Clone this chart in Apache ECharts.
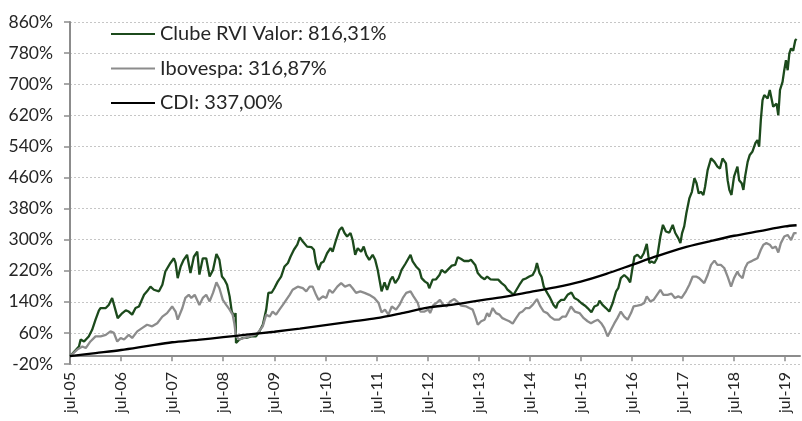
<!DOCTYPE html>
<html><head><meta charset="utf-8">
<script src="https://cdn.jsdelivr.net/npm/echarts@6/dist/echarts.min.js"></script>
<style>html,body{margin:0;padding:0;background:#fff}#c{width:802px;height:421px}</style>
</head><body><div id="c"></div>
<script>
// ---- data (x = months since jul-05, y = accumulated return %) ----
const seriesNames = ['Clube RVI Valor: 816,31%', 'Ibovespa: 316,87%', 'CDI: 337,00%'];
const xTickLabels = ['jul-05','jul-06','jul-07','jul-08','jul-09','jul-10','jul-11','jul-12','jul-13','jul-14','jul-15','jul-16','jul-17','jul-18','jul-19'];
const xTickMonths = [0,12,24,36,48,60,72,84,96,108,120,132,144,156,168];

const clubeMonths = [0,2.1,2.5,3.3,4.4,5.2,6.0,6.8,7.2,8.4,9.1,9.9,10.7,11.2,12.3,13.1,13.8,14.6,15.4,16.2,17.4,18.1,18.9,19.7,20.9,21.7,22.4,23.6,24.4,24.8,25.3,26.0,26.7,27.5,28.3,29.1,29.9,30.4,31.2,32.0,32.8,33.6,34.4,35.1,35.7,36.3,36.9,37.5,38.0,38.6,38.9,39.0,39.8,40.6,41.4,42.6,43.7,44.5,45.3,46.1,46.6,47.4,48.0,48.8,49.6,50.4,51.2,51.8,52.6,53.4,54.0,54.7,55.7,56.7,57.3,57.8,58.4,59.0,59.6,60.4,61.2,61.7,62.5,63.3,63.9,64.5,65.1,65.9,66.4,67.0,67.6,68.4,69.0,69.6,70.3,71.1,71.7,72.3,72.7,73.2,73.9,74.5,75.3,75.8,76.4,77.2,77.9,78.8,80.0,80.5,81.3,82.1,82.6,83.4,84.0,84.4,85.2,86.0,86.8,87.3,88.1,88.9,89.7,90.5,91.1,91.9,92.6,93.7,94.2,94.6,95.2,95.8,96.6,97.4,98.0,98.8,99.7,100.6,101.4,102.2,102.8,103.6,104.2,104.9,105.6,106.4,107.1,107.9,108.7,109.3,109.7,110.3,110.8,111.3,112.1,112.8,113.6,114.2,114.6,115.4,116.1,116.9,117.8,118.5,119.3,120.1,121.0,121.6,122.5,123.2,124.0,124.4,125.1,125.9,126.7,127.5,128.3,128.8,129.4,130.2,131.0,131.6,132.2,132.6,133.3,134.1,134.8,135.5,136.1,136.6,137.3,137.9,138.7,139.3,140.0,140.8,141.6,142.2,142.9,143.4,143.8,144.3,144.8,145.5,146.1,146.7,147.2,147.7,148.2,148.8,149.2,149.8,150.6,151.4,152.1,152.7,153.3,154.1,154.5,154.9,155.4,156.0,156.8,157.2,157.8,158.2,158.6,159.2,159.7,160.3,161.0,161.5,161.9,162.3,162.7,163.1,163.9,164.4,165.2,166.0,166.4,166.8,167.4,167.8,168.2,168.6,169.0,169.4,169.9,170.4,170.7];
const clubeValues = [0,25,43,38,51,68,94,118,124,124,132,150,118,98,111,118,115,107,124,128,158,167,179,171,167,184,218,240,252,240,201,231,248,261,214,256,269,210,252,252,205,222,263,248,205,197,184,154,115,102,111,34,43,47,47,51,51,64,81,120,163,164,175,192,205,231,240,256,274,287,306,295,282,281,274,240,222,240,244,265,278,269,299,325,332,317,308,317,299,261,278,269,282,261,248,261,248,222,197,167,190,171,197,205,188,201,222,238,261,244,231,222,201,192,188,175,197,198,209,222,215,224,233,235,255,250,245,245,248,252,235,214,204,198,205,198,197,197,188,181,171,164,158,171,184,197,200,205,209,222,240,214,204,179,163,150,132,124,137,145,145,158,164,150,145,137,130,124,113,128,132,143,132,124,115,137,167,175,201,209,201,190,231,256,261,252,265,289,240,244,240,252,308,338,321,318,338,317,304,291,317,334,368,406,423,458,445,419,423,415,436,479,509,500,488,483,509,496,453,428,415,462,488,453,445,428,462,500,518,526,548,556,539,608,659,672,663,685,642,650,620,685,706,736,762,736,779,792,786,813,816.31];

const iboveMonths = [0,1.7,2.9,3.7,4.8,6.0,7.2,8.4,9.5,10.3,11.1,11.9,12.7,13.8,14.6,15.8,17.0,18.1,19.3,20.5,21.7,22.8,24.0,24.8,25.3,26.4,27.1,27.9,28.5,29.3,30.4,31.2,32.0,32.8,33.6,34.4,35.1,35.9,36.7,37.5,38.2,38.6,39.0,39.8,41.0,42.2,43.4,44.1,45.3,46.1,46.9,47.6,48.4,49.2,50.0,50.8,51.6,52.3,53.5,54.7,55.5,56.3,57.0,57.8,58.4,59.4,60.2,60.9,61.7,62.8,63.7,64.6,65.7,66.4,67.2,68.2,69.2,70.3,71.5,72.5,73.2,74.0,74.8,75.6,76.6,77.4,78.2,79.0,80.0,80.7,81.7,82.3,83.3,84.2,84.6,85.4,86.1,86.9,87.7,88.5,89.3,90.3,91.1,91.9,93.1,93.8,94.6,95.2,95.8,96.6,97.4,98.0,98.5,99.3,100.1,100.9,101.6,102.4,103.2,104.0,104.8,105.6,106.3,107.1,107.9,108.7,109.7,110.5,111.3,112.1,112.8,113.8,114.9,115.7,116.5,117.7,118.6,119.7,120.7,121.6,122.4,123.2,124.0,124.8,125.5,126.3,127.1,127.9,128.6,129.4,130.2,131.0,131.8,132.4,133.3,134.1,134.9,135.5,136.3,137.1,137.9,138.7,139.4,140.4,141.3,142.1,142.9,143.7,144.7,145.5,146.3,147.1,147.8,149.0,149.8,150.6,151.4,152.1,152.9,153.7,154.5,155.3,156.0,156.8,157.2,158.0,158.6,159.2,160.0,160.7,161.5,162.3,162.9,163.6,164.4,165.0,165.8,166.4,167.0,167.8,168.6,169.4,170.1,170.7];
const iboveValues = [0,17,25,21,38,51,51,55,64,60,38,47,43,55,47,64,73,81,77,85,102,111,128,115,94,124,150,158,150,158,132,150,158,141,163,190,175,145,132,120,107,85,51,43,47,51,55,60,77,107,102,115,107,120,132,145,158,171,179,175,167,179,179,158,145,154,150,171,163,179,188,179,184,175,163,167,163,158,150,137,113,120,107,128,120,132,150,163,167,154,137,115,115,120,111,132,137,145,132,128,141,147,139,130,128,124,120,102,81,90,94,111,102,124,111,107,98,94,90,84,98,111,115,124,124,132,147,128,115,111,102,94,94,102,102,128,115,111,98,90,85,90,94,85,73,51,68,85,98,115,102,94,111,128,130,132,137,154,141,145,158,171,158,158,161,150,154,150,167,184,205,205,201,188,209,235,246,235,235,227,205,179,201,218,209,201,227,240,244,248,252,274,287,291,287,278,282,267,291,308,312,299,317,316.87];

const cdiMonths = [0,6,12,18,24,30,36,42,48,54,60,66,72,78,84,90,96,102,108,114,120,126,132,138,144,150,156,162,168,170.7];
const cdiValues = [0,8,16,26,36,42,49,56,63,71,80,89,98,111,125,133,143,153,165,177,192,212,235,258,279,295,310,322,334,337];

// ---- chart ----
const FONT = 'Lato';
const TXT = '#262626';
const zip = (xs, ys) => xs.map((x, i) => [x, ys[i]]);
const chart = echarts.init(document.getElementById('c'), null, {renderer: 'canvas'});
chart.setOption({
  animation: false,
  backgroundColor: '#ffffff',
  grid: {left: 70, right: 2, top: 22, bottom: 57, containLabel: false},
  legend: {
    orient: 'vertical', left: 111, top: 24, itemGap: 14.5, padding: 0,
    itemWidth: 44, itemHeight: 2, icon: 'rect',
    textStyle: {fontFamily: FONT, fontSize: 20, lineHeight: 20, color: TXT},
    data: seriesNames
  },
  xAxis: [
    {type: 'value', min: 0, max: 171.5, position: 'bottom',
     axisLine: {onZero: true, lineStyle: {color: '#8c8c8c', width: 2}},
     axisTick: {show: true, length: 5, customValues: xTickMonths, lineStyle: {color: '#8c8c8c', width: 1.5}},
     axisLabel: {show: false}, splitLine: {show: false}},
    {type: 'value', min: 0, max: 171.5, position: 'bottom',
     axisLine: {show: false, onZero: false}, axisTick: {show: false},
     axisLabel: {show: true, rotate: 90, margin: 8, customValues: xTickMonths,
       fontFamily: FONT, fontSize: 16, color: TXT,
       formatter: v => xTickLabels[Math.round(v / 12)] || ''},
     splitLine: {show: false}}
  ],
  yAxis: {
    type: 'value', min: -20, max: 860, interval: 80,
    axisLine: {show: true, lineStyle: {color: '#8c8c8c', width: 2}},
    axisTick: {show: true, length: 6, lineStyle: {color: '#8c8c8c', width: 1.5}},
    axisLabel: {margin: 17, fontFamily: FONT, fontSize: 17.5, color: TXT, formatter: '{value}%'},
    splitLine: {show: true, lineStyle: {type: [2, 2], color: '#c6c6c6', width: 1}}
  },
  series: [
    {name: seriesNames[0], type: 'line', xAxisIndex: 0, data: zip(clubeMonths, clubeValues),
     showSymbol: false, color: '#1c4a1c', lineStyle: {width: 2.3, color: '#1c4a1c'}},
    {name: seriesNames[1], type: 'line', xAxisIndex: 0, data: zip(iboveMonths, iboveValues),
     showSymbol: false, color: '#8c8c8c', lineStyle: {width: 2.3, color: '#8c8c8c'}},
    {name: seriesNames[2], type: 'line', xAxisIndex: 0, data: zip(cdiMonths, cdiValues), smooth: 0.3,
     showSymbol: false, color: '#000000', lineStyle: {width: 2.3, color: '#000000'}}
  ]
});
</script></body></html>
